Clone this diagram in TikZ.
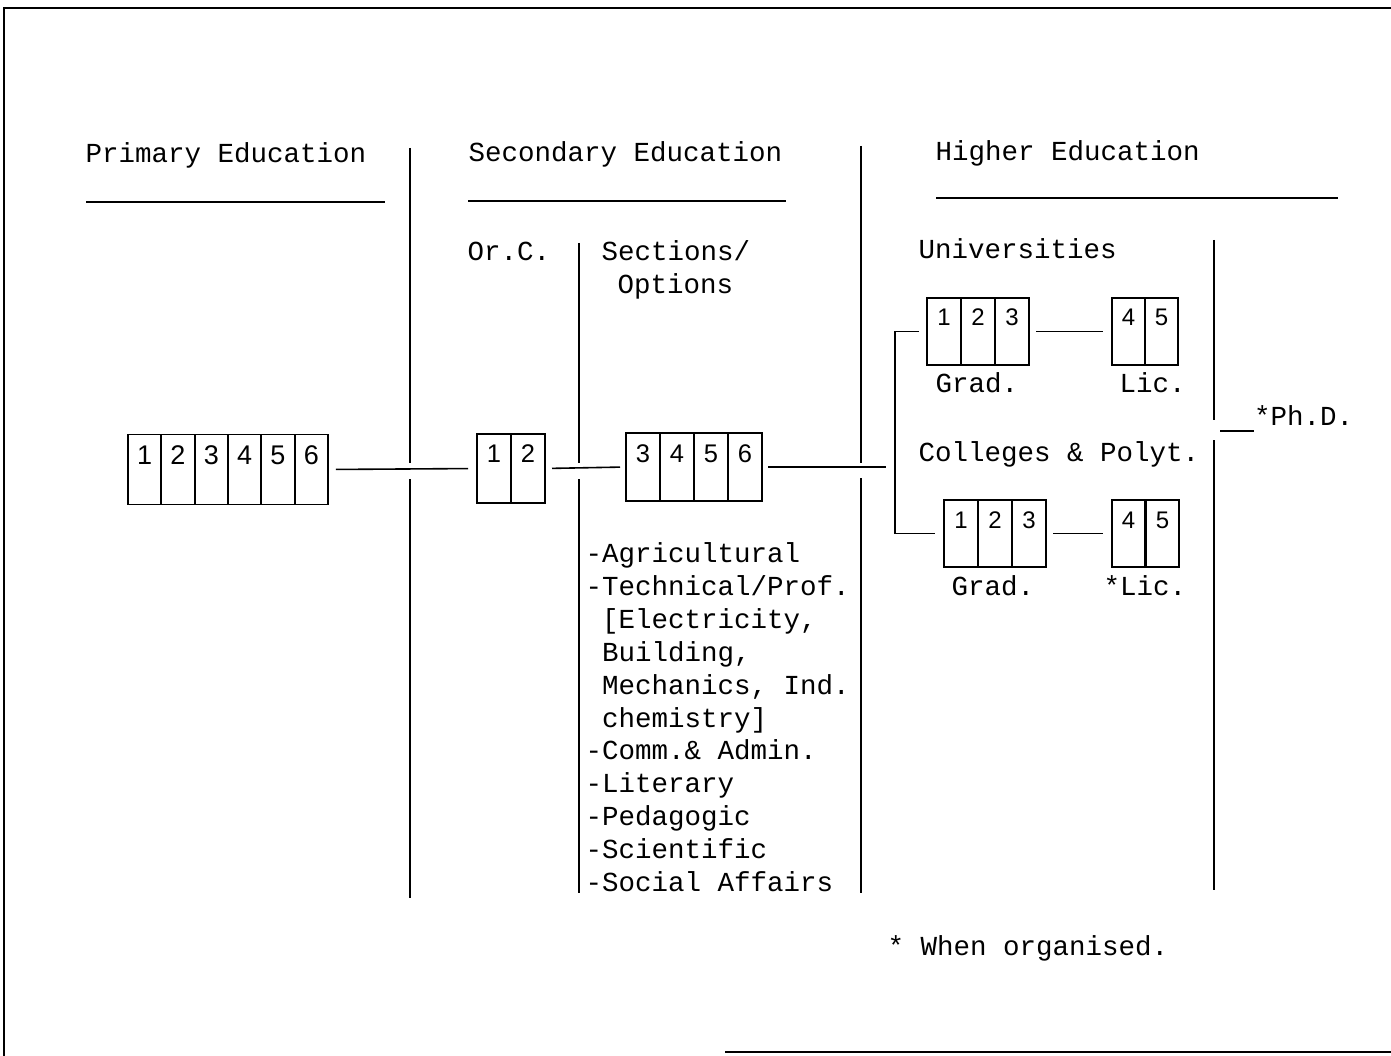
\documentclass[tikz,border=0pt]{standalone}
\usepackage{fontspec}
\newfontfamily\monofont{Liberation Mono}
\newfontfamily\digfont{Liberation Sans}
\begin{document}
\begin{tikzpicture}[x=1pt,y=-1pt,
  txt/.style={font=\monofont\fontsize{27.5}{33}\selectfont, inner sep=0pt, outer sep=0pt, anchor=base west},
  rule/.style={line width=1.6pt},
  frame/.style={line width=1.2pt},
  cellbase/.style={draw, line width=1.8pt, inner sep=0pt, outer sep=0pt, anchor=north west},
  pcell/.style={cellbase, minimum width=33.33pt, text height=30pt, text depth=40pt, font=\digfont\fontsize{27}{27}\selectfont},
  scell/.style={cellbase, minimum width=34pt, text height=28pt, text depth=41pt, font=\digfont\fontsize{25.5}{25.5}\selectfont},
  tcell/.style={cellbase, minimum width=34pt, text height=29pt, text depth=39pt, font=\digfont\fontsize{25.5}{25.5}\selectfont},
  hcell/.style={cellbase, minimum width=34pt, text height=28pt, text depth=39pt, font=\digfont\fontsize{24}{24}\selectfont},
  kcell/.style={hcell, minimum width=33pt}
]
\useasboundingbox (0,0) rectangle (1391,1056);
% frame
\draw[frame] (4,1056) -- (4,8) -- (1391,8);
\draw[frame] (725,1052) -- (1391,1052);

% headings
\node[txt] (hprim) at (85.5,163) {Primary Education};
\node[txt] (hsec) at (468.5,162) {Secondary Education};
\node[txt] (hhigh) at (935.5,161) {Higher Education};
\draw[rule] (86,202) -- (385,202);
\draw[rule] (468,201) -- (786,201);
\draw[rule] (936,198) -- (1338,198);

% dividers
\draw[rule] (410,148) -- (410,463) (410,479) -- (410,898);
\draw[rule] (579,243) -- (579,463) (579,479) -- (579,893);
\draw[rule] (861,146) -- (861,463) (861,478) -- (861,893);
\draw[rule] (1214,240) -- (1214,420) (1214,440) -- (1214,890);

% secondary labels
\node[txt] (orc) at (467.5,261) {Or.C.};
\node[txt] (sect) at (601.5,261) {Sections/};
\node[txt] (opt) at (617.5,294) {Options};

% list
\node[txt] (l1) at (585.5,562) {-Agricultural};
\node[txt] (l2) at (585.5,595) {-Technical/Prof.};
\node[txt] (l3) at (602,628) {[Electricity,};
\node[txt] (l4) at (602,661) {Building,};
\node[txt] (l5) at (602,694) {Mechanics, Ind.};
\node[txt] (l6) at (602,727) {chemistry]};
\node[txt] (l7) at (585.5,759) {-Comm.\& Admin.};
\node[txt] (l8) at (585.5,792) {-Literary};
\node[txt] (l9) at (585.5,825) {-Pedagogic};
\node[txt] (l10) at (585.5,858) {-Scientific};
\node[txt] (l11) at (585.5,891) {-Social Affairs};

% higher labels
\node[txt] (univ) at (918.5,259) {Universities};
\node[txt] (ugrad) at (935.5,392) {Grad.};
\node[txt] (ulic) at (1119.5,392) {Lic.};
\node[txt] (coll) at (918.5,461) {Colleges \& Polyt.};
\node[txt] (cgrad) at (951.5,595) {Grad.};
\node[txt] (clic) at (1103.5,595) {*Lic.};
\node[txt] (phd) at (1254,425) {*Ph.D.};
\coordinate (phdl) at (1220,431);
\draw[rule] (phdl) -- (phdl -| phd.west);

\node[txt] (note) at (887.5,955) {* When organised.};

% boxes
\foreach \d in {1,...,6} \node[pcell] (p\d) at ({128+33.33*(\d-1)},434.5) {\d};
\foreach \d in {1,2} \node[scell] (s\d) at ({477+34*(\d-1)},434) {\d};
\foreach \d in {3,...,6} \node[tcell] (t\d) at ({626+34*(\d-3)},433) {\d};
\foreach \d in {1,2,3} \node[hcell] (u\d) at ({927+34*(\d-1)},298) {\d};
\foreach \d in {4,5} \node[kcell] (v\d) at ({1112+33*(\d-4)},298) {\d};
\foreach \d in {1,2,3} \node[hcell] (c\d) at ({944+34*(\d-1)},500) {\d};
\foreach \d in {4,5} \node[kcell] (d\d) at ({1112+34*(\d-4)},500) {\d};

% connectors
\draw[rule, shorten <=8pt, shorten >=9pt] (p6.east) -- (s1.west);
\draw[rule, shorten <=7pt, shorten >=6pt] (s2.east) -- (t3.west);
\coordinate (secend) at (886,467);
\draw[rule, shorten <=6pt] (t6.east) -- (secend);
\draw[rule, shorten <=7pt, shorten >=9pt] (u3.east) -- (v4.west);
\draw[rule, shorten <=7pt, shorten >=9pt] (c3.east) -- (d4.west);
\draw[rule] ([xshift=-8pt]u1.west) -- ++(-24,0) |- ([xshift=-9pt]c1.west);
\end{tikzpicture}
\end{document}
